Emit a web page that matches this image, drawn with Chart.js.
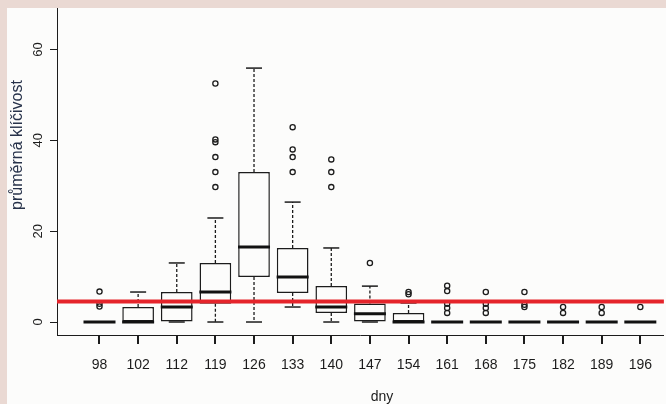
<!DOCTYPE html>
<html lang="cs">
<head>
<meta charset="utf-8">
<title>průměrná klíčivost</title>
<script src="https://cdn.jsdelivr.net/npm/chart.js@4/dist/chart.umd.min.js"></script>
<style>
    html, body { margin: 0; padding: 0; background: #ead9d3; overflow: hidden; }
    #wrap { position: absolute; left: 7px; top: 8px; width: 659px; height: 396px; background: #fcfcfb; }
    canvas { display: block; }
</style>
</head>
<body>
<div id="wrap"><canvas id="boxChart" width="659" height="396"></canvas></div>
<script>
// dny (x categories)
const days = ['98', '102', '112', '119', '126', '133', '140', '147', '154', '161', '168', '175', '182', '189', '196'];

// box statistics
const whiskerLow  = [0, 0, 0, 0,    0,    3.3,  0,    0,   0,   0, 0, 0, 0, 0, 0];
const q1          = [0, 0, 0, 4.0,  9.9,  6.4,  2.0,  0,   0,   0, 0, 0, 0, 0, 0];
const median      = [0, 0, 3.3, 6.6, 16.5, 9.9, 3.3,  1.8, 0,   0, 0, 0, 0, 0, 0];
const q3          = [0, 3.3, 6.6, 13.0, 33.0, 16.3, 7.9, 4.1, 2.0, 0, 0, 0, 0, 0, 0];
const whiskerHigh = [0, 6.6, 13.0, 22.9, 55.9, 26.4, 16.3, 7.9, 4.2, 0, 0, 0, 0, 0, 0];

const outliers = [
    [6.7, 4.0, 3.4],
    [],
    [],
    [52.5, 40.2, 39.6, 36.3, 33.0, 29.7],
    [],
    [42.9, 38.0, 36.3, 33.0],
    [35.8, 33.0, 29.7],
    [13.0],
    [6.6, 6.1],
    [8.0, 6.8, 4.0, 3.1, 2.0],
    [6.6, 4.0, 3.1, 2.0],
    [6.6, 3.8, 3.3],
    [3.3, 2.0],
    [3.3, 2.0],
    [3.3]
];

// red reference line
const limit = 4.5;

const yTicks = [0, 20, 40, 60];
const xMin = -0.1, xMax = 15.61;
const yMin = -2.86, yMax = 69.13;

const FONT = '"Liberation Sans Narrow", "Liberation Sans", Arial, sans-serif';
const INK = '#1c1c1c';

// build datasets from the arrays
const pos = days.map((d, i) => i + 1);

const boxData = pos.map((x, i) => ({ x: x, y: [q1[i], q3[i]] }));
const medianData = pos.map((x, i) => ({ x: x, y: median[i] }));
const capData = [];
const whiskerData = [];
pos.forEach((x, i) => {
    capData.push({ x: x, y: whiskerLow[i] }, { x: x, y: whiskerHigh[i] });
    whiskerData.push({ x: x, y: q3[i] }, { x: x, y: whiskerHigh[i] }, { x: x, y: null });
    whiskerData.push({ x: x, y: q1[i] }, { x: x, y: whiskerLow[i] }, { x: x, y: null });
});
const outlierData = [];
outliers.forEach((list, i) => list.forEach(v => outlierData.push({ x: pos[i], y: v })));

// tick marks on x, y tick labels and axis titles (rotated like R draws them)
const labelsPlugin = {
    id: 'rLabels',
    afterDraw(chart) {
        const { ctx, scales } = chart;
        ctx.save();
        ctx.fillStyle = INK;
        const base = Math.round(scales.x.top);
        scales.x.ticks.forEach(t => {
            const px = Math.round(scales.x.getPixelForValue(t.value));
            ctx.fillRect(px - 1, base, 2, 9);
        });
        ctx.textAlign = 'center';
        ctx.textBaseline = 'middle';
        ctx.font = '13px ' + FONT;
        scales.y.ticks.forEach(t => {
            ctx.save();
            ctx.translate(31, scales.y.getPixelForValue(t.value));
            ctx.rotate(-Math.PI / 2);
            ctx.fillText(String(t.value), 0, 0);
            ctx.restore();
        });
        ctx.save();
        ctx.fillStyle = '#27324a';
        ctx.font = '16px ' + FONT;
        ctx.translate(11, 137);
        ctx.rotate(-Math.PI / 2);
        ctx.fillText('průměrná klíčivost', 0, 0);
        ctx.restore();
        ctx.font = '14px ' + FONT;
        ctx.fillText('dny', 375, 389);
        ctx.restore();
    }
};

new Chart(document.getElementById('boxChart'), {
    type: 'bar',
    data: {
        datasets: [
            {
                type: 'line',
                data: [{ x: xMin, y: limit }, { x: xMax, y: limit }],
                borderColor: '#e5242b',
                borderWidth: 4,
                pointRadius: 0,
                order: 0
            },
            {
                type: 'scatter',
                data: outlierData,
                pointStyle: 'circle',
                pointRadius: 2.6,
                borderWidth: 1.3,
                borderColor: INK,
                backgroundColor: 'rgba(0,0,0,0)',
                order: 1
            },
            {
                type: 'scatter',
                data: medianData,
                pointStyle: 'line',
                pointRadius: 16,
                borderWidth: 3,
                borderColor: '#111',
                order: 2
            },
            {
                type: 'scatter',
                data: capData,
                pointStyle: 'line',
                pointRadius: 8,
                borderWidth: 1.5,
                borderColor: INK,
                order: 3
            },
            {
                type: 'bar',
                data: boxData,
                backgroundColor: '#fcfcfb',
                borderColor: INK,
                borderWidth: 1.5,
                borderSkipped: false,
                barPercentage: 1,
                categoryPercentage: 0.82,
                order: 4
            },
            {
                type: 'line',
                data: whiskerData,
                borderColor: INK,
                borderWidth: 1.3,
                borderDash: [3, 2],
                pointRadius: 0,
                spanGaps: false,
                order: 5
            }
        ]
    },
    options: {
        responsive: false,
        animation: false,
        events: [],
        layout: { padding: 0, autoPadding: false },
        plugins: { legend: { display: false }, tooltip: { enabled: false } },
        scales: {
            x: {
                type: 'linear',
                min: xMin,
                max: xMax,
                offset: false,
                afterBuildTicks: axis => { axis.ticks = pos.map(v => ({ value: v })); },
                afterFit: axis => { axis.height = 69; },
                ticks: {
                    autoSkip: false,
                    maxRotation: 0,
                    padding: 14,
                    color: INK,
                    font: { family: FONT, size: 14 },
                    callback: v => days[v - 1]
                },
                grid: { offset: false, drawOnChartArea: false, drawTicks: true, tickLength: 8, color: INK, lineWidth: 1 },
                border: { display: true, color: INK, width: 1 }
            },
            y: {
                type: 'linear',
                min: yMin,
                max: yMax,
                afterBuildTicks: axis => { axis.ticks = yTicks.map(v => ({ value: v })); },
                afterFit: axis => { axis.width = 50; },
                ticks: { display: false },
                grid: { drawOnChartArea: false, drawTicks: true, tickLength: 7, color: INK, lineWidth: 1 },
                border: { display: true, color: INK, width: 1 }
            }
        }
    },
    plugins: [labelsPlugin]
});
</script>
</body>
</html>
